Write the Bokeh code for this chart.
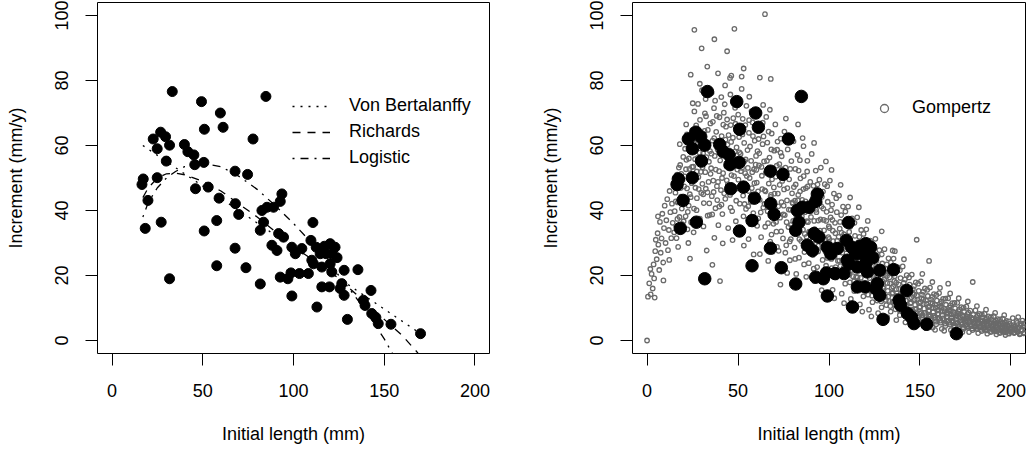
from bokeh.plotting import figure
from bokeh.layouts import row
from bokeh.models import Range1d, FixedTicker, Legend, LegendItem, ColumnDataSource
from bokeh.embed import file_html
from bokeh.resources import INLINE

FONT = "Liberation Sans"

# observed data (initial length mm, increment mm/y)
obs = [(33.2,76.6),(49.3,73.5),(84.8,75.1),(59.7,70.0),(50.9,65.0),(61.2,65.6),(77.7,62.0),
       (26.8,64.1),(29.5,62.7),(22.7,62.0),(31.7,60.1),(24.9,59.0),(39.9,60.3),(41.8,58.1),
       (45.1,57.1),(50.6,54.8),(45.6,54.1),(29.9,55.2),(67.8,52.1),(74.7,51.1),(17.2,49.7),
       (16.5,48.0),(24.9,50.1),(46.0,46.7),(53.0,47.2),(59.0,43.8),(68.0,42.1),(19.8,43.1),
       (93.6,45.1),(92.7,42.8),(18.3,34.5),(27.1,36.4),(31.7,19.0),(57.7,36.9),(50.8,33.7),
       (69.8,38.8),(67.8,28.4),(57.7,23.0),(73.8,22.4),(81.7,17.4),(81.7,33.9),(82.6,40.0),
       (85.4,41.0),(89.0,41.0),(83.5,36.4),(91.8,32.9),(94.5,31.8),(88.1,29.3),(90.9,27.7),
       (99.1,28.7),(101.0,26.7),(92.7,19.5),(98.6,20.8),(103.3,20.6),(99.1,13.7),(110.7,36.3),
       (104.6,28.3),(109.6,30.8),(112.5,28.7),(114.7,26.7),(120.2,29.8),(122.9,28.7),(121.1,26.7),
       (110.1,24.7),(111.0,23.6),(115.6,22.6),(120.2,23.6),(121.1,21.1),(127.9,21.6),(135.5,21.8),
       (108.2,20.6),(115.6,16.5),(119.8,16.5),(125.7,16.0),(127.9,13.9),(142.7,15.4),(138.5,12.4),
       (139.4,10.8),(143.1,8.3),(145.4,7.1),(146.7,5.2),(153.7,5.0),(170.0,2.1),(129.7,6.5),
       (112.9,10.3),(126.6,17.5),(118.0,26.7),(96.9,19.0),(124.0,25.5),(117.0,29.0)]
length = [p[0] for p in obs]
increment = [p[1] for p in obs]

# fitted curves
vb_x = [17, 170]
vb_y = [60.0, 2.1]
rich_x = [17, 20, 25, 30, 35, 40, 50, 60, 70, 80, 90, 100, 110, 120, 130, 140, 150, 160, 168, 170]
rich_y = [44, 47, 50, 51.3, 51.5, 51, 49, 46, 42, 38, 33.5, 29, 25, 21, 16.5, 11.5, 6.5, 1.5, -3.5, -5]
logi_x = [17, 20, 25, 30, 35, 40, 50, 60, 70, 80, 90, 100, 110, 120, 130, 140, 150, 155, 160, 170]
logi_y = [38, 42.5, 47, 50, 52, 53.5, 54.5, 53.5, 50.5, 46.5, 41.5, 36, 30, 23.5, 16.5, 9, 0.5, -4.5, -9, -17]

# simulated Gompertz cloud
gomp = [(0,0),(0.5,13.5),(1.2,17.6),(2.0,14.2),(2.5,20.5),(3.1,16),(3.6,23.4),(4.2,13.2),(4.5,27.5),(1.8,22),(3.9,19.1),(4.8,31),
(5.3,25),(5.8,33),(6.2,29.5),(6.7,21.7),(7.1,36.5),(7.5,27),(8.0,31.4),(8.4,39),(8.9,24),(9.3,34.6),(9.7,41.5),(9.0,18.5),(6.0,38.2),
(10.2,30),(10.6,37),(11.1,43.5),(11.5,27.8),(12.0,34),(12.4,46),(12.8,39.5),(13.3,31.5),(13.7,42.1),(14.1,36.2),(14.6,48.3),(14.9,33.3),(12.2,24.8),
(15.2,39.8),(15.6,45.5),(16.0,35.2),(16.5,51),(16.9,42.5),(17.3,47.7),(17.8,38),(18.2,54),(18.6,44.3),(19.1,40.6),(19.5,49.4),(19.9,56.5),(16.2,31.5),(18.0,60.4),
(20.3,43),(20.7,50.5),(21.2,38.2),(21.6,55.6),(22.0,46.8),(22.5,61.2),(22.9,41.5),(23.3,52.8),(23.6,25.2),(23.8,58.3),(24.2,36.4),(24.6,48.4),(24.9,64.7),(21.5,66.5),(22.2,34.2),(24.0,44.1),(20.9,59.0),
(26.0,95.6),(25.4,53.5),(25.8,40.6),(26.2,59.7),(26.6,47),(27.0,66.2),(27.4,43.8),(27.8,56.2),(28.2,50.3),(28.6,62.8),(29.0,37.5),(29.4,54.7),(29.8,45.4),(26.0,70.5),(28.0,72.8),(25.6,33.3),(29.2,60.1),(27.3,52.0),
(30.2,77),(30.4,48.2),(30.8,57.6),(31.2,42.3),(31.6,64.5),(32.0,51.8),(32.4,69),(32.8,27.7),(30.0,89.9),(33.2,45.6),(33.6,60.9),(34.0,55),(34.4,38.6),(34.8,66.8),(31.0,35.1),(33.8,48.8),(32.2,74.3),(34.6,58.3),(30.6,62.0),
(35.2,53),(35.6,44.4),(35.9,23.3),(36.0,61.5),(36.4,49.2),(36.8,71.5),(37.2,56.8),(37.6,40.7),(38.0,64.2),(37.0,92.7),(38.4,47.5),(38.8,58.8),(39.2,35.5),(39.6,52.1),(36.2,67.3),(37.0,31.6),(39.8,68.7),(35.5,76.2),(38.6,43.2),
(40.1,18.3),(40.2,55.4),(40.6,46.3),(41.0,62.9),(41.4,38.9),(41.8,51.5),(42.2,70.1),(42.6,57.3),(43.0,43.6),(44.0,89.0),(43.4,65.8),(43.8,49.3),(44.2,60.3),(44.6,34.6),(44.9,54.1),(40.8,74.9),(42.9,78.5),(41.6,29.9),(44.0,68.0),
(45.2,58.5),(45.6,44.8),(46.0,66.3),(46.4,50.9),(46.8,39.8),(47.2,62.4),(47.6,55.2),(48.0,95.9),(48.0,47.2),(48.4,71.6),(48.8,36.7),(49.2,59.4),(49.6,52.6),(45.8,75.7),(47.0,30.9),(49.0,43.0),(46.3,81.5),(48.6,66.7),
(50.2,49.5),(50.6,62.6),(51.0,42.1),(51.4,57.4),(64.8,100.4),(52.2,53.1),(52.6,68.2),(53.0,38.2),(53.4,60.8),(53.8,46.4),(54.2,55.7),(54.6,72.2),(50.4,33.4),(52.0,77.4),(53.2,29.2),(54.8,50.6),(51.5,65.0),(53.6,42.0),
(55.2,58.6),(55.6,41.3),(56.0,63.9),(56.4,50),(56.8,35.8),(57.2,55.3),(57.6,46.9),(58.0,67.1),(58.4,39.2),(58.8,52.7),(59.2,61.5),(59.6,44.1),(55.8,31.2),(57.4,70.6),(58.6,26.5),(59.9,56.8),(56.2,75.0),
(60.3,48.6),(60.7,58.3),(61.1,37.6),(61.5,53.9),(61.9,43.3),(62.3,65.4),(62.7,31.8),(63.1,50.7),(63.5,60.4),(63.9,40.9),(64.3,55.1),(64.7,46.2),(60.8,69.6),(62.0,26.6),(63.8,72.5),(64.9,35.0),(61.3,62.0),
(65.3,51.6),(65.7,42.2),(66.1,60.9),(66.5,36.1),(66.9,48.3),(67.3,56.3),(67.7,30.4),(68.1,44.8),(68.5,63.7),(68.9,39.1),(69.3,53),(69.7,47.1),(65.5,68.8),(66.6,24.5),(69.0,27.3),(67.5,71.0),(68.3,58.8),
(70.3,40.5),(70.7,50.4),(71.1,33.5),(71.5,58.7),(71.9,45.2),(72.3,27.6),(72.7,54.3),(73.1,37.8),(73.5,62.1),(73.9,42.6),(74.3,49.1),(74.7,31.4),(70.5,66.5),(72.0,22.1),(74.0,56.7),(73.3,17.2),(71.7,61.2),
(75.3,46.5),(75.7,38.6),(76.1,53.2),(76.5,29.3),(76.9,43.1),(77.3,58.8),(77.7,34.9),(78.1,49.6),(78.5,24.7),(78.9,40.2),(79.3,55.2),(79.7,45.3),(75.5,64.3),(77.0,20.8),(79.0,31.2),(76.3,68.3),(78.3,62.0),
(80.3,36.8),(80.7,47.2),(81.1,28.6),(81.5,52.8),(81.9,41.5),(82.3,33.4),(82.7,57.1),(83.1,44.8),(83.5,25.5),(83.9,38.9),(84.3,49.9),(84.7,30.6),(80.5,61.3),(82.0,20.5),(84.0,55.5),(83.0,66.5),(81.3,43.0),
(85.3,43.3),(85.7,34.1),(86.1,50.6),(86.5,27.2),(86.9,39.5),(87.3,46.9),(87.7,31.9),(88.1,55.3),(88.5,36.4),(88.9,23.8),(89.3,42.1),(89.7,48.8),(86.0,59.8),(87.5,19.6),(89.0,29.5),(85.5,62.3),(88.0,52.0),
(90.3,33.6),(90.7,41.4),(91.1,26.3),(91.5,47.6),(91.9,36.8),(92.3,29.9),(92.7,52.3),(93.1,39.5),(93.5,22.6),(93.9,44.6),(94.3,33.2),(94.7,49.5),(90.5,57.4),(92.0,18.3),(94.0,27.4),(91.8,60.8),
(95.3,37.3),(95.7,30.1),(96.1,44.2),(96.5,24.8),(96.9,40.6),(97.3,33.9),(97.7,48.1),(98.1,27.3),(98.5,36.8),(98.9,21.2),(99.3,42.7),(99.7,31.8),(95.5,53.2),(97.0,18.5),(99.0,47.5),(96.0,15.5),(98.3,55.1),
(100.3,34.6),(100.7,28.2),(101.1,40.1),(101.5,22.3),(101.9,37.1),(102.3,30.6),(102.7,45.2),(103.1,25.8),(103.5,33),(103.9,19.4),(104.3,39.5),(104.7,27.8),(100.5,49.2),(102.0,15.6),(104.0,43.8),(102.9,13.0),(101.4,52.5),
(105.3,31.9),(105.7,24.6),(106.1,36.5),(106.5,20.1),(106.9,33.2),(107.3,27),(107.7,41.2),(108.1,22.4),(108.5,29.8),(108.9,17.5),(109.3,35.9),(109.7,25.3),(105.5,44.6),(107.0,14.4),(109.0,39.7),(106.4,47.9),(108.3,11.5),
(110.3,28.5),(110.7,22),(111.1,33.4),(111.5,17.9),(111.9,30.1),(112.3,24.3),(112.7,37.6),(113.1,19.8),(113.5,26.8),(113.9,15.2),(114.3,32.2),(114.7,22.6),(110.5,41.2),(112.0,12.8),(114.0,36.2),(111.6,44.0),(113.3,10.0),
(115.3,26.1),(115.7,19.5),(116.1,30.2),(116.5,15.8),(116.9,27.4),(117.3,21.8),(117.7,34),(118.1,17.6),(118.5,24.4),(118.9,13.6),(119.3,29.1),(119.7,20.3),(115.5,37.9),(117.0,11.1),(119.0,32.8),(116.4,41.0),(118.3,8.9),
(120.3,23.2),(120.7,17.3),(121.1,27.5),(121.5,14.1),(121.9,24.8),(122.3,19.2),(122.7,30.7),(123.1,15.5),(123.5,21.9),(123.9,11.8),(124.3,26.3),(124.7,18.1),(120.5,34.2),(122.0,9.5),(124.0,29.6),(121.3,36.8),(123.3,7.4),
(125.3,20.8),(125.7,15.2),(126.1,24.6),(126.5,12.3),(126.9,22.2),(127.3,17),(127.7,27.8),(128.1,13.8),(128.5,19.6),(128.9,10.2),(129.3,23.7),(129.7,16.1),(125.5,31.3),(127.0,8.4),(129.0,26.5),(129.0,33.6),(128.3,6.6),
(130.3,18.7),(130.7,13.4),(131.1,22.1),(131.5,10.9),(131.9,19.9),(132.3,15.3),(132.7,25.3),(133.1,12.2),(133.5,17.6),(133.9,8.9),(134.3,21.3),(134.7,14.4),(130.5,28.1),(132.0,7.2),(134.0,24.0),(135.0,27.7),
(135.3,16.6),(135.7,11.9),(136.1,19.8),(136.5,9.6),(136.9,17.8),(137.3,13.7),(137.7,22.6),(138.1,10.8),(138.5,15.8),(138.9,7.8),(139.3,19.2),(139.7,12.7),(135.5,25.2),(137.0,6.3),(139.0,21.6),(136.2,27.5),
(140.3,14.9),(140.7,10.6),(141.1,17.7),(141.5,8.6),(141.9,15.9),(142.3,12.3),(142.7,20.1),(143.1,9.7),(143.5,14.1),(143.9,7),(144.3,17.2),(144.7,11.4),(140.5,22.8),(142.0,5.6),(144.0,19.4),(141.2,25.0),
(145.3,13.3),(145.7,9.5),(146.1,15.8),(146.5,7.7),(146.9,14.2),(147.3,11),(147.7,17.9),(148.1,8.7),(148.5,12.6),(148.9,6.3),(149.3,15.3),(149.7,10.2),(145.5,20.3),(147.0,5.0),(149.0,17.5),(148.2,31.0),
(150.3,11.9),(150.7,8.5),(151.1,14.1),(151.5,6.9),(151.9,12.7),(152.3,9.8),(152.7,16),(153.1,7.8),(153.5,11.3),(153.9,5.6),(154.3,13.7),(154.7,9.1),(150.5,18.2),(152.0,4.5),(154.0,15.6),(151.3,20.5),(153.3,3.8),(155.0,24.5),
(155.3,10.6),(155.7,7.6),(156.1,12.6),(156.5,6.2),(156.9,11.4),(157.3,8.8),(157.7,14.3),(158.1,7),(158.5,10.1),(158.9,5),(159.3,12.3),(159.7,8.1),(155.5,16.3),(157.0,4.0),(159.0,14.0),(156.8,18.0),(158.3,3.3),
(160.3,9.5),(160.7,6.8),(161.1,11.3),(161.5,5.5),(161.9,10.2),(162.3,7.9),(162.7,12.8),(163.1,6.3),(163.5,9),(163.9,4.5),(164.3,11),(164.7,7.3),(160.5,14.6),(162.0,3.6),(164.0,12.9),(161.0,16.2),(163.3,3.0),(165.5,17.5),
(165.3,8.5),(165.7,6.1),(166.1,10.1),(166.5,4.9),(166.9,9.1),(167.3,7.1),(167.7,11.5),(168.1,5.6),(168.5,8.1),(168.9,4.0),(169.3,9.9),(169.7,6.5),(165.5,13.0),(167.0,3.2),(169.0,11.6),(166.6,14.5),
(170.3,7.6),(170.7,5.4),(171.1,9.0),(171.5,4.4),(171.9,8.2),(172.3,6.3),(172.7,10.3),(173.1,5),(173.5,7.3),(173.9,3.6),(174.3,8.8),(174.7,5.8),(170.5,11.6),(172.0,2.9),(174.0,10.1),(171.3,13.0),(173.3,2.6),
(175.3,6.8),(175.7,4.9),(176.1,8.1),(176.5,3.9),(176.9,7.3),(177.3,5.7),(177.7,9.2),(178.1,4.5),(178.5,6.5),(178.9,3.2),(179.3,7.9),(179.7,5.2),(175.5,10.4),(177.0,2.6),(179.0,18.0),(176.3,12.0),
(180.3,6.1),(180.7,4.4),(181.1,7.2),(181.5,3.5),(181.9,6.5),(182.3,5.1),(182.7,8.2),(183.1,4),(183.5,5.8),(183.9,2.9),(184.3,7.1),(184.7,4.7),(180.5,9.3),(182.0,2.3),(184.0,8.0),(181.3,10.6),
(185.3,5.5),(185.7,3.9),(186.1,6.5),(186.5,3.1),(186.9,5.9),(187.3,4.6),(187.7,7.4),(188.1,3.6),(188.5,5.2),(188.9,2.6),(189.3,6.3),(189.7,4.2),(185.5,8.3),(187.0,2.1),(189.0,7.2),(186.3,9.5),
(190.3,4.9),(190.7,3.5),(191.1,5.8),(191.5,2.8),(191.9,5.3),(192.3,4.1),(192.7,6.6),(193.1,3.2),(193.5,4.7),(193.9,2.3),(194.3,5.7),(194.7,3.8),(190.5,7.5),(192.0,1.9),(194.0,6.5),(191.3,8.5),
(195.3,4.4),(195.7,3.2),(196.1,5.2),(196.5,2.5),(196.9,4.8),(197.3,3.7),(197.7,6),(198.1,2.9),(198.5,4.2),(198.9,2.1),(199.3,5.1),(199.7,3.4),(195.5,6.7),(197.0,1.7),(199.0,5.9),(196.3,7.8),
(200.3,4),(200.8,2.9),(201.3,4.7),(201.8,2.3),(202.3,4.3),(202.8,3.3),(203.3,5.4),(203.8,2.6),(204.3,3.8),(204.8,1.9),(205.3,4.6),(205.8,3.1),(206.3,6.1),(206.8,2.2),(207.3,5.3),(207.8,3.5),(201.0,6.9),(204.0,7.2)]

gomp_more = [(33.1,84.3),(39.0,82.2),(53.1,83.7),(45.6,80.8),(52.0,81.2),(62.0,80.9),(68.0,80.5),(24.0,81.8),(29.0,79.0),(25.1,73.0),
(15.8,42.8),(16.7,37.4),(17.5,53.2),(18.4,46.9),(19.3,35.8),(19.7,43.5),(17.1,28.8),(18.8,51.3),
(20.5,47.4),(21.4,52.7),(22.4,39.6),(23.0,56.0),(23.5,45.0),(24.4,60.2),(20.1,36.7),(21.9,63.4),(24.7,53.4),(22.7,30.0),
(25.5,49.2),(26.4,55.8),(27.2,40.1),(27.6,61.5),(28.4,46.6),(29.1,67.9),(29.6,51.9),(26.8,35.4),(28.9,57.8),(25.9,63.8),
(30.5,53.3),(31.4,60.4),(32.3,46.7),(32.6,56.4),(33.4,64.8),(34.2,42.2),(34.9,51.3),(31.8,69.9),(33.3,38.4),(30.9,45.0),
(35.4,57.5),(36.6,45.7),(36.9,62.3),(37.8,52.6),(38.3,69.1),(39.0,48.8),(39.4,60.7),(35.8,38.8),(37.4,73.8),(39.7,41.2),
(40.4,59.2),(41.2,50.0),(41.9,66.4),(42.4,45.3),(43.1,61.8),(43.6,53.7),(44.4,48.0),(44.8,63.2),(40.9,41.8),(42.7,72.7),
(45.4,53.1),(46.2,61.1),(46.6,47.6),(47.4,68.4),(47.8,50.6),(48.2,58.1),(49.4,64.5),(49.8,46.8),(45.9,40.9),(47.1,73.6),
(50.8,57.9),(51.2,47.0),(51.6,52.1),(52.4,63.4),(52.8,44.6),(53.5,55.1),(54.0,66.3),(54.4,40.5),(50.1,69.5),(53.9,51.5),
(55.4,53.1),(55.9,46.0),(56.6,59.7),(57.0,42.7),(57.8,51.8),(58.2,62.9),(59.0,48.4),(59.4,37.7),(56.1,67.8),(59.7,54.1),
(60.1,52.5),(61.0,45.9),(61.7,57.6),(62.5,39.4),(62.9,53.4),(63.3,46.6),(64.0,62.8),(64.5,42.0),(60.5,35.3),(63.6,67.0),
(65.1,45.9),(65.9,55.3),(66.3,39.8),(67.1,52.0),(67.9,44.2),(68.7,49.6),(69.5,35.9),(69.9,58.4),(66.8,64.3),(68.4,32.6),
(70.1,45.2),(70.9,36.5),(71.3,53.8),(72.1,41.3),(72.9,47.9),(73.7,33.6),(74.1,52.7),(74.9,38.8),(71.4,28.8),(73.4,57.8),
(75.1,41.5),(75.9,50.2),(76.7,36.4),(77.1,46.9),(77.9,40.3),(78.7,52.8),(79.1,35.6),(79.9,42.5),(76.0,27.0),(78.4,30.5),
(80.1,42.2),(80.9,33.0),(81.7,48.0),(82.1,37.9),(82.9,43.1),(83.7,31.2),(84.1,45.9),(84.9,35.8),(81.4,25.1),(83.3,52.3),
(85.1,38.2),(85.9,46.6),(86.7,32.8),(87.1,42.8),(87.9,36.7),(88.3,47.4),(89.1,33.5),(89.9,39.8),(86.3,23.4),(88.7,28.5),
(90.1,38.0),(90.9,30.4),(91.3,44.0),(92.1,34.3),(92.9,40.2),(93.3,28.0),(94.1,36.9),(94.9,42.2),(91.6,22.1),(93.7,48.0),
(95.1,33.8),(95.9,41.2),(96.3,28.7),(97.1,37.1),(97.9,31.0),(98.7,39.6),(99.1,25.4),(99.9,35.1),(96.7,45.8),(98.4,23.0),
(100.1,31.3),(100.9,37.9),(101.3,25.1),(102.1,33.8),(102.5,27.4),(103.3,36.2),(103.7,22.6),(104.5,30.7),(101.7,41.8),(104.9,24.5),
(105.1,28.4),(105.9,34.4),(106.3,22.9),(107.1,30.4),(107.5,24.6),(108.3,32.7),(108.7,20.4),(109.5,28.1),(106.7,38.6),(109.9,22.0),
(110.1,25.6),(110.9,31.0),(111.3,20.3),(112.1,27.4),(112.5,21.7),(113.3,29.5),(113.7,18.2),(114.5,25.3),(111.7,35.0),(114.9,19.6),
(115.1,23.0),(115.9,28.1),(116.3,18.0),(117.1,24.6),(117.5,19.3),(118.3,26.7),(118.7,15.9),(119.5,22.6),(116.7,31.9),(119.9,17.4),
(120.1,20.6),(120.9,25.4),(121.3,16.0),(122.1,22.1),(122.5,17.1),(123.3,24.0),(123.7,13.8),(124.5,20.2),(121.7,28.8),(124.9,15.4),
(125.1,18.5),(125.9,22.9),(126.3,14.2),(127.1,19.8),(127.5,15.2),(128.3,21.6),(128.7,12.1),(129.5,18.1),(126.7,26.0),(129.9,13.5),
(130.1,16.5),(130.9,20.5),(131.3,12.5),(132.1,17.7),(132.5,13.5),(133.3,19.4),(133.7,10.6),(134.5,16.2),(131.7,23.4),(134.9,11.9),
(135.1,14.7),(135.9,18.3),(136.3,11.1),(137.1,15.8),(137.5,12.0),(138.3,17.3),(138.7,9.3),(139.5,14.5),(136.7,21.0),(139.9,10.5),
(140.1,13.1),(140.9,16.3),(141.3,9.8),(142.1,14.1),(142.5,10.7),(143.3,15.5),(143.7,8.2),(144.5,12.9),(141.7,18.8),(144.9,9.3),
(145.1,11.7),(145.9,14.6),(146.3,8.7),(147.1,12.6),(147.5,9.5),(148.3,13.8),(148.7,7.3),(149.5,11.5),(146.7,16.8),(149.9,8.3),
(150.1,10.4),(150.9,13.0),(151.3,7.7),(152.1,11.2),(152.5,8.5),(153.3,12.3),(153.7,6.5),(154.5,10.3),(151.7,15.0),(154.9,7.4),
(155.1,9.3),(155.9,11.6),(156.3,6.9),(157.1,10.0),(157.5,7.6),(158.3,11.0),(158.7,5.8),(159.5,9.2),(156.7,13.4),(159.9,6.6),
(160.1,8.3),(160.9,10.4),(161.3,6.1),(162.1,8.9),(162.5,6.8),(163.3,9.8),(163.7,5.2),(164.5,8.2),(161.7,12.0),(164.9,5.9),
(165.1,7.4),(165.9,9.3),(166.3,5.5),(167.1,8.0),(167.5,6.1),(168.3,8.8),(168.7,4.6),(169.5,7.3),(166.7,10.8),(169.9,5.3),
(170.1,6.6),(170.9,8.3),(171.3,4.9),(172.1,7.1),(172.5,5.4),(173.3,7.8),(173.7,4.1),(174.5,6.5),(171.7,9.6),(174.9,4.7),
(175.1,5.9),(175.9,7.4),(176.3,4.4),(177.1,6.4),(177.5,4.8),(178.3,7.0),(178.7,3.7),(179.5,5.8),(176.7,8.6),(179.9,4.2),
(180.1,5.3),(180.9,6.6),(181.3,3.9),(182.1,5.7),(182.5,4.3),(183.3,6.3),(183.7,3.3),(184.5,5.2),(181.7,7.7),(184.9,3.8),
(185.1,4.7),(185.9,5.9),(186.3,3.5),(187.1,5.1),(187.5,3.9),(188.3,5.6),(188.7,2.9),(189.5,4.6),(186.7,6.9),(189.9,3.4),
(190.1,4.2),(190.9,5.3),(191.3,3.1),(192.1,4.6),(192.5,3.5),(193.3,5.0),(193.7,2.6),(194.5,4.1),(191.7,6.2),(194.9,3.0),
(195.1,3.8),(195.9,4.7),(196.3,2.8),(197.1,4.1),(197.5,3.1),(198.3,4.5),(198.7,2.3),(199.5,3.7),(196.7,5.6),(199.9,2.7),
(200.5,3.4),(201.5,4.2),(202.0,2.5),(202.5,3.7),(203.5,2.8),(204.5,4.0),(205.0,2.1),(206.0,3.3),(207.0,4.4),(207.5,2.4),(205.5,5.3),(203.0,6.0)]

gx = [p[0] for p in gomp + gomp_more]
gy = [p[1] for p in gomp + gomp_more]

x_ticks = [0, 50, 100, 150, 200]
y_ticks = [0, 20, 40, 60, 80, 100]


def make_fig(border_left, frame_w, total_w):
    p = figure(width=total_w, height=454, frame_width=frame_w, frame_height=351,
               min_border_left=border_left, min_border_right=total_w - border_left - frame_w,
               min_border_top=2, min_border_bottom=101,
               x_range=Range1d(-8, 208), y_range=Range1d(-4, 104),
               output_backend="svg", toolbar_location=None)
    p.grid.visible = False
    p.outline_line_color = "black"
    p.outline_line_width = 1
    p.background_fill_color = "white"
    p.border_fill_color = "white"
    for ax in (p.xaxis[0], p.yaxis[0]):
        ax.axis_line_color = None
        ax.major_tick_line_color = "black"
        ax.major_tick_out = 12
        ax.major_tick_in = 0
        ax.minor_tick_line_color = None
        ax.major_label_text_font = FONT
        ax.major_label_text_font_size = "18px"
        ax.major_label_text_color = "black"
        ax.axis_label_text_font = FONT
        ax.axis_label_text_font_size = "18px"
        ax.axis_label_text_font_style = "normal"
        ax.axis_label_text_color = "black"
    p.xaxis.ticker = FixedTicker(ticks=x_ticks)
    p.yaxis.ticker = FixedTicker(ticks=y_ticks)
    p.xaxis.axis_label = "Initial length (mm)"
    p.yaxis.axis_label = "Increment (mm/y)"
    p.xaxis.major_label_standoff = 18
    p.yaxis.major_label_standoff = 18
    p.yaxis.major_label_orientation = "vertical"
    p.xaxis.axis_label_standoff = 24
    p.yaxis.axis_label_standoff = 26
    return p


# left panel
p1 = make_fig(97, 392, 515)
src = ColumnDataSource(dict(x=length, y=increment))
p1.scatter("x", "y", source=src, size=10, color="black")
r_vb = p1.line(vb_x, vb_y, line_color="black", line_width=1.3, line_dash="2 6")
r_ri = p1.line(rich_x, rich_y, line_color="black", line_width=1.3, line_dash="8 7")
r_lo = p1.line(logi_x, logi_y, line_color="black", line_width=1.3, line_dash="2 6 8 6")
leg1 = Legend(items=[LegendItem(label="Von Bertalanffy", renderers=[r_vb]),
                     LegendItem(label="Richards", renderers=[r_ri]),
                     LegendItem(label="Logistic", renderers=[r_lo])],
              location=(195, 185), orientation="vertical",
              glyph_width=38, glyph_height=20, label_height=20, label_standoff=19,
              spacing=5, padding=0, margin=0, border_line_color=None,
              background_fill_alpha=0, label_text_font=FONT,
              label_text_font_size="18px", label_text_color="black")
p1.add_layout(leg1)

# right panel
p2 = make_fig(117, 393, 516)
r_g = p2.scatter(gx, gy, size=4.5, marker="circle", fill_color=None,
                 line_color="#6a6a6a", line_width=1.3)
p2.scatter("x", "y", source=ColumnDataSource(dict(x=length, y=increment)),
           size=12.5, color="black")
leg2 = Legend(items=[LegendItem(label="Gompertz", renderers=[r_g])],
              location=(242, 235), orientation="vertical",
              glyph_width=20, glyph_height=20, label_height=20, label_standoff=18,
              spacing=5, padding=0, margin=0, border_line_color=None,
              background_fill_alpha=0, label_text_font=FONT,
              label_text_font_size="18px", label_text_color="black")
p2.add_layout(leg2)

layout = row(p1, p2, spacing=0)
open("out.html", "w").write(file_html(layout, INLINE))
